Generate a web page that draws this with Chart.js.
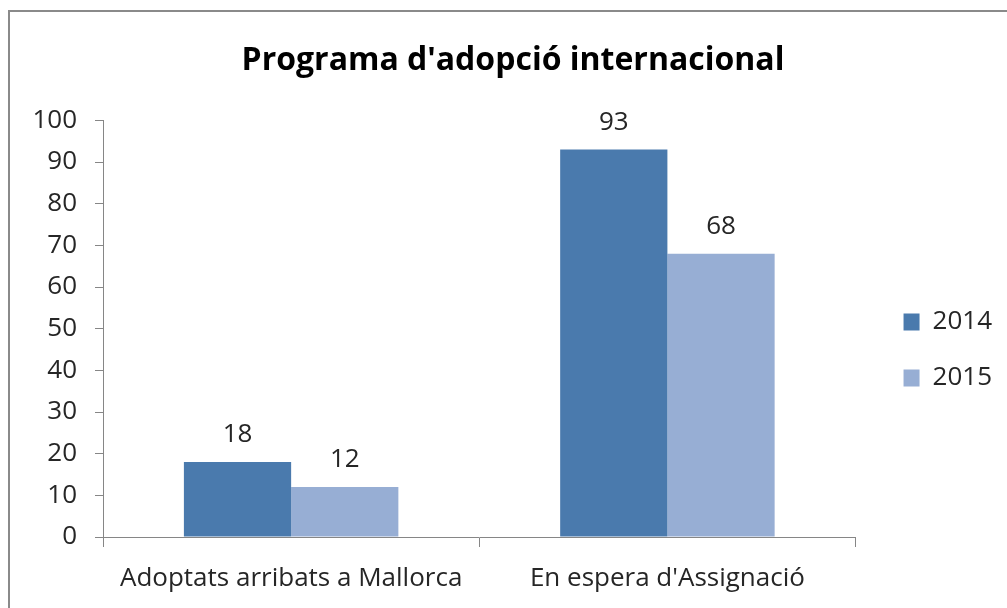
<!DOCTYPE html>
<html>
<head>
<meta charset="utf-8">
<script src="https://cdn.jsdelivr.net/npm/chart.js@4.4.1/dist/chart.umd.min.js"></script>
<style>
  html, body { margin: 0; padding: 0; background: #fff; overflow: hidden; }
  #frame { position: absolute; left: 8px; top: 10px; width: 1020px; height: 620px;
           border: 2px solid #8a8a8a; box-sizing: border-box; }
  #wrap { position: absolute; left: 0; top: 0; width: 1007px; height: 608px; }
</style>
</head>
<body>
<div id="frame"></div>
<div id="wrap"><canvas id="chart"></canvas></div>
<script>
const categories = ["Adoptats arribats a Mallorca", "En espera d'Assignació"];
const seriesNames = ["2014", "2015"];
const values2014 = [18, 93];
const values2015 = [12, 68];
const yMin = 0;
const yMax = 100;
const yStep = 10;

const textColor = "#262626";
const axisColor = "#868686";
const font = "'Open Sans', 'Noto Sans', sans-serif";

// value labels above each bar
const barValues = {
  id: "barValues",
  afterDatasetsDraw(chart) {
    const ctx = chart.ctx;
    ctx.save();
    ctx.fillStyle = textColor;
    ctx.font = "26px " + font;
    ctx.textAlign = "center";
    ctx.textBaseline = "alphabetic";
    chart.data.datasets.forEach((ds, i) => {
      chart.getDatasetMeta(i).data.forEach((bar, j) => {
        ctx.fillText(ds.data[j], bar.x, bar.y - 20);
      });
    });
    ctx.restore();
  },
};

// nudge legend and title to where the original puts them
const boxShift = {
  id: "boxShift",
  afterLayout(chart) {
    const lg = chart.legend;
    if (lg) {
      lg.left += 18; lg.right += 18;
      lg.top += 46; lg.bottom += 46;
    }
    const tb = chart.titleBlock;
    if (tb) { tb.left += 11; tb.right += 11; }
  },
};

new Chart(document.getElementById("chart"), {
  type: "bar",
  data: {
    labels: categories,
    datasets: [
      { label: seriesNames[0], data: values2014, backgroundColor: "#4A7AAD" },
      { label: seriesNames[1], data: values2015, backgroundColor: "#97AED4" },
    ],
  },
  options: {
    responsive: true,
    maintainAspectRatio: false,
    animation: false,
    layout: { padding: { left: 20, top: 0, right: 23, bottom: 0 } },
    datasets: { bar: { barPercentage: 1, categoryPercentage: 0.57 } },
    plugins: {
      title: {
        display: true,
        text: "Programa d'adopció internacional",
        color: "#000",
        font: { family: font, size: 32, weight: "bold" },
        padding: { top: 42, bottom: 40 },
      },
      legend: {
        position: "right",
        labels: {
          color: textColor,
          font: { family: font, size: 26 },
          boxWidth: 16,
          boxHeight: 17,
          padding: 30,
        },
      },
      tooltip: { enabled: false },
    },
    scales: {
      x: {
        afterFit: (scale) => { scale.height = 71; },
        grid: { drawOnChartArea: false, drawTicks: true, tickLength: 10, color: axisColor, offset: true },
        border: { color: axisColor, width: 1 },
        ticks: { color: textColor, font: { family: font, size: 26 }, padding: 16, maxRotation: 0 },
      },
      y: {
        min: yMin,
        max: yMax,
        afterFit: (scale) => { scale.width = 83; },
        grid: { drawOnChartArea: false, drawTicks: true, tickLength: 8, color: axisColor },
        border: { color: axisColor, width: 1 },
        ticks: { stepSize: yStep, color: textColor, font: { family: font, size: 26 }, padding: 18 },
      },
    },
  },
  plugins: [barValues, boxShift],
});
</script>
</body>
</html>
